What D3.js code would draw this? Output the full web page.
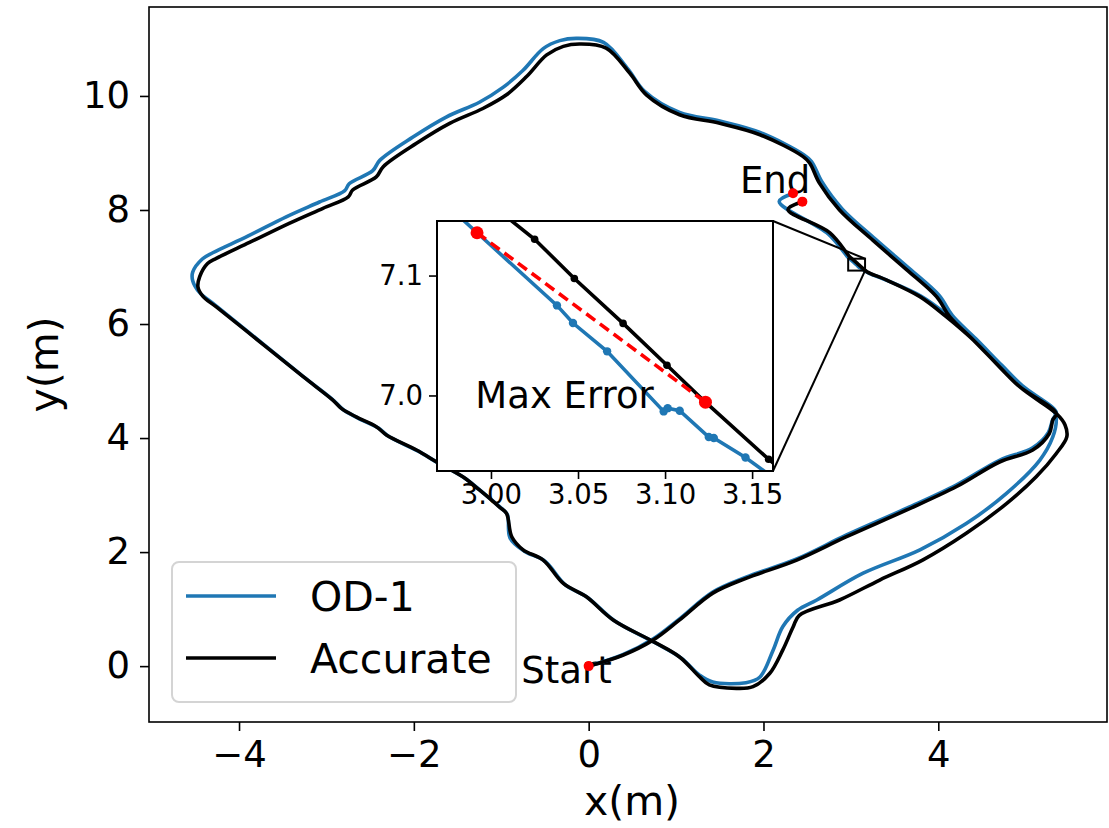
<!DOCTYPE html>
<html>
<head>
<meta charset="utf-8">
<script src="https://cdn.jsdelivr.net/npm/d3@7"></script>
<style>
body { margin: 0; background: #fff; }
svg { display: block; font-family: "DejaVu Sans", sans-serif; }
</style>
</head>
<body>
<script>
const WIDTH = 1109
const HEIGHT = 828

// ground truth trajectory
const accurateX = [0, 0.39, 0.74, 1.04, 1.42, 1.80, 2.38, 2.95, 3.64, 4.21, 4.70, 5.08, 5.27, 5.31, 5.35,
    4.93, 4.70, 4.40, 4.13, 3.98, 3.64, 3.25, 2.87, 2.64, 2.53, 2.45, 1.96, 1.50, 1.04, 0.66, 0.47, 0.20, -0.10, -0.29, -0.48,
    -0.71, -0.94, -1.21, -1.59, -1.97, -2.35, -2.43, -2.70, -2.75, -3.04, -3.42, -3.88, -4.26, -4.36, -4.45, -4.47, -4.41, -4.26,
    -3.69, -3.27, -2.93, -2.83, -2.66, -2.43, -2.31, -1.97, -1.74, -1.44, -1.25, -1.02, -0.94, -0.88, -0.75, -0.52, -0.29, -0.03, 0.28, 0.74, 1.04,
    1.27, 1.38, 1.69, 1.88, 2.07, 2.22, 2.34, 2.41,
    2.87, 3.33, 3.82, 4.32, 4.78, 5.12, 5.35, 5.47, 5.45, 5.35,
    4.93, 4.40, 4.09, 3.79, 3.41, 3.19,
    3.1595, 3.1232, 3.1011, 3.0759, 3.0479, 3.0251, 2.995,
    2.76, 2.28, 2.445]
const accurateY = [0, 0.19, 0.46, 0.81, 1.28, 1.54, 1.86, 2.27, 2.74, 3.15, 3.58, 3.79, 4.08, 4.32, 4.43,
    4.90, 5.25, 5.72, 6.13, 6.48, 6.95, 7.47, 8.00, 8.47, 8.82, 8.94, 9.32, 9.52, 9.67, 10.02, 10.40, 10.84, 10.91, 10.87, 10.72,
    10.34, 10.02, 9.78, 9.52, 9.17, 8.76, 8.58, 8.35, 8.23, 8.03, 7.77, 7.43, 7.15, 7.06, 6.83, 6.65, 6.48, 6.30,
    5.60, 5.08, 4.67, 4.52, 4.37, 4.20, 4.05, 3.79, 3.58, 3.32, 3.09, 2.79, 2.68, 2.27, 2.04, 1.86, 1.45, 1.22, 0.81, 0.43, 0.16,
    -0.19, -0.33, -0.39, -0.36, -0.13, 0.28, 0.69, 0.89,
    1.16, 1.51, 1.86, 2.33, 2.85, 3.32, 3.73, 4.02, 4.23, 4.43,
    4.90, 5.72, 6.13, 6.48, 6.77, 6.91,
    6.9468, 6.9944, 7.0252, 7.0601, 7.0975, 7.1303, 7.165,
    7.60, 8.01, 8.146]

// OD-1 estimate
const od1X = [0, 0.39, 0.74, 1.04, 1.42, 1.80, 2.38, 2.95, 3.64, 4.21, 4.70, 5.08, 5.26, 5.31, 5.35,
    4.96, 4.73, 4.43, 4.16, 4.01, 3.67, 3.28, 2.90, 2.67, 2.55, 2.46, 1.96, 1.50, 1.04, 0.64, 0.45, 0.17, -0.14, -0.33, -0.52,
    -0.75, -0.98, -1.25, -1.63, -2.01, -2.39, -2.47, -2.74, -2.79, -3.08, -3.46, -3.90, -4.30, -4.42, -4.53, -4.53, -4.45, -4.28,
    -3.67, -3.25, -2.91, -2.81, -2.64, -2.41, -2.29, -1.95, -1.72, -1.42, -1.23, -1.00, -0.93, -0.90, -0.74, -0.50, -0.27, -0.01, 0.30, 0.76, 1.06,
    1.27, 1.42, 1.80, 1.96, 2.11, 2.22, 2.39,
    2.61, 3.14, 3.79, 4.32, 4.78, 5.16, 5.31, 5.35,
    5.33, 4.96, 4.43, 4.11, 3.80, 3.42, 3.21,
    3.175, 3.1462, 3.128, 3.1251, 3.1084, 3.1015, 3.0992, 3.0667, 3.0471, 3.0379, 2.992, 2.97,
    2.74, 2.18, 2.34]
const od1Y = [0, 0.20, 0.48, 0.83, 1.30, 1.56, 1.88, 2.30, 2.77, 3.18, 3.61, 3.83, 4.10, 4.33, 4.45,
    4.92, 5.27, 5.74, 6.15, 6.50, 6.97, 7.49, 8.02, 8.49, 8.85, 8.97, 9.36, 9.56, 9.71, 10.08, 10.47, 10.94, 11.01, 10.97, 10.83,
    10.45, 10.15, 9.89, 9.63, 9.28, 8.87, 8.69, 8.46, 8.34, 8.14, 7.88, 7.54, 7.25, 7.14, 6.91, 6.76, 6.55, 6.34,
    5.58, 5.06, 4.65, 4.50, 4.35, 4.18, 4.03, 3.77, 3.56, 3.30, 3.07, 2.77, 2.66, 2.25, 2.02, 1.84, 1.43, 1.20, 0.79, 0.41, 0.14,
    -0.16, -0.28, -0.29, -0.19, 0.28, 0.69, 0.98,
    1.16, 1.63, 2.04, 2.50, 3.03, 3.61, 4.02, 4.32,
    4.45, 4.91, 5.73, 6.15, 6.49, 6.76, 6.89,
    6.918, 6.9482, 6.9645, 6.9653, 6.9873, 6.9894, 6.9867, 7.0368, 7.0604, 7.0751, 7.1357, 7.165,
    7.58, 8.15, 8.29]

const seriesNames = ["OD-1", "Accurate"]
const seriesColors = ["#1f77b4", "#000000"]

// start / end markers and the max error pair
const startX = [0]
const startY = [0]
const endX = [2.338, 2.445]
const endY = [8.293, 8.146]
const maxErrX = [2.992, 3.1232]
const maxErrY = [7.1357, 6.9944]

const xTicks = [-4, -2, 0, 2, 4]
const yTicks = [0, 2, 4, 6, 8, 10]
const insetXTicks = [3.00, 3.05, 3.10, 3.15]
const insetYTicks = [7.0, 7.1]

const MAIN = {left: 149, right: 1107, top: 7, bottom: 722}
const INSET = {left: 437, right: 773, top: 221, bottom: 471}

var x = d3.scaleLinear().domain([-5.03, 5.93]).range([MAIN.left, MAIN.right])
var y = d3.scaleLinear().domain([-0.98, 11.56]).range([MAIN.bottom, MAIN.top])
var ix = d3.scaleLinear().domain([2.969, 3.162]).range([INSET.left, INSET.right])
var iy = d3.scaleLinear().domain([6.937, 7.1455]).range([INSET.bottom, INSET.top])

var pairs = function(xs, ys){
    return xs.map(function(v, i){ return [v, ys[i]] })
}
var accurate = pairs(accurateX, accurateY)
var od1 = pairs(od1X, od1Y)

var fmtTick = function(d){ return d < 0 ? "\u2212" + Math.abs(d) : "" + d }

var createChart = function(){
    var svg = d3.select("body").append("svg")
        .attr("width", WIDTH)
        .attr("height", HEIGHT)

    var defs = svg.append("defs")
    defs.append("clipPath").attr("id", "clipMain").append("rect")
        .attr("x", MAIN.left).attr("y", MAIN.top)
        .attr("width", MAIN.right - MAIN.left).attr("height", MAIN.bottom - MAIN.top)
    defs.append("clipPath").attr("id", "clipInset").append("rect")
        .attr("x", INSET.left).attr("y", INSET.top)
        .attr("width", INSET.right - INSET.left).attr("height", INSET.bottom - INSET.top)

    createMain(svg)
    createLegend(svg)
    createInset(svg)
}

var createMain = function(svg){
    var line = d3.line()
        .curve(d3.curveCatmullRom.alpha(0.5))
        .x(function(d){ return x(d[0]) }).y(function(d){ return y(d[1]) })
    var plot = svg.append("g").attr("clip-path", "url(#clipMain)")

    plot.append("text").attr("x", x(-0.77)).attr("y", y(-0.30))
        .style("font-size", "37px").text("Start")
    plot.append("text").attr("x", x(1.73)).attr("y", y(8.29))
        .style("font-size", "37px").text("End")

    plot.append("path").datum(od1)
        .attr("d", line).attr("fill", "none")
        .attr("stroke", seriesColors[0]).attr("stroke-width", 3.6)
        .attr("stroke-linejoin", "round").attr("stroke-linecap", "round")
    plot.append("path").datum(accurate)
        .attr("d", line).attr("fill", "none")
        .attr("stroke", seriesColors[1]).attr("stroke-width", 3.6)
        .attr("stroke-linejoin", "round").attr("stroke-linecap", "round")

    plot.selectAll("circle.start").data(pairs(startX, startY)).enter().append("circle")
        .attr("cx", function(d){ return x(d[0]) }).attr("cy", function(d){ return y(d[1]) })
        .attr("r", 5).attr("fill", "red")
    plot.selectAll("circle.end").data(pairs(endX, endY)).enter().append("circle")
        .attr("cx", function(d){ return x(d[0]) }).attr("cy", function(d){ return y(d[1]) })
        .attr("r", 5).attr("fill", "red")

    // zoom box
    plot.append("rect")
        .attr("x", x(ix.domain()[0])).attr("y", y(iy.domain()[1]))
        .attr("width", x(ix.domain()[1]) - x(ix.domain()[0]))
        .attr("height", y(iy.domain()[0]) - y(iy.domain()[1]))
        .attr("fill", "none").attr("stroke", "#000").attr("stroke-width", 2)

    var xAxis = svg.append("g")
        .attr("transform", "translate(0," + MAIN.bottom + ")")
        .call(d3.axisBottom(x).tickValues(xTicks).tickFormat(fmtTick).tickSize(9).tickPadding(10))
    var yAxis = svg.append("g")
        .attr("transform", "translate(" + MAIN.left + ",0)")
        .call(d3.axisLeft(y).tickValues(yTicks).tickFormat(fmtTick).tickSize(9).tickPadding(10))
    ;[xAxis, yAxis].forEach(function(g){
        g.select(".domain").remove()
        g.selectAll("line").attr("stroke", "#000").attr("stroke-width", 1.6)
        g.selectAll("text").style("font-size", "37px").attr("fill", "#000")
            .style("font-family", "DejaVu Sans")
    })

    svg.append("rect")
        .attr("x", MAIN.left).attr("y", MAIN.top)
        .attr("width", MAIN.right - MAIN.left).attr("height", MAIN.bottom - MAIN.top)
        .attr("fill", "none").attr("stroke", "#000").attr("stroke-width", 1.6)

    svg.append("text")
        .attr("x", 632).attr("y", 815)
        .attr("text-anchor", "middle").style("font-size", "41px").text("x(m)")
    svg.append("text")
        .attr("transform", "translate(58," + (MAIN.top + MAIN.bottom) / 2 + ") rotate(-90)")
        .attr("text-anchor", "middle").style("font-size", "41px").text("y(m)")
}

var createLegend = function(svg){
    var g = svg.append("g")
    g.append("rect")
        .attr("x", 172).attr("y", 562).attr("width", 344).attr("height", 140)
        .attr("rx", 7).attr("fill", "#fff").attr("fill-opacity", 0.8)
        .attr("stroke", "#d4d4d4").attr("stroke-width", 2)
    seriesNames.forEach(function(name, i){
        var ly = 596 + i * 62
        g.append("line")
            .attr("x1", 186).attr("x2", 276).attr("y1", ly).attr("y2", ly)
            .attr("stroke", seriesColors[i]).attr("stroke-width", 3.6)
        g.append("text")
            .attr("x", 310).attr("y", ly + 15)
            .style("font-size", "41px").text(name)
    })
}

var createInset = function(svg){
    var line = d3.line().x(function(d){ return ix(d[0]) }).y(function(d){ return iy(d[1]) })

    svg.append("rect")
        .attr("x", INSET.left).attr("y", INSET.top)
        .attr("width", INSET.right - INSET.left).attr("height", INSET.bottom - INSET.top)
        .attr("fill", "#fff")

    var plot = svg.append("g").attr("clip-path", "url(#clipInset)")
    ;[od1, accurate].forEach(function(series, i){
        plot.append("path").datum(series)
            .attr("d", line).attr("fill", "none")
            .attr("stroke", seriesColors[i]).attr("stroke-width", 3.6)
        plot.selectAll("circle.s" + i).data(series).enter().append("circle")
            .attr("class", "s" + i)
            .attr("cx", function(d){ return ix(d[0]) }).attr("cy", function(d){ return iy(d[1]) })
            .attr("r", i == 0 ? 4.2 : 3.8).attr("fill", seriesColors[i])
    })
    var errPts = pairs(maxErrX, maxErrY)
    plot.append("path").datum(errPts)
        .attr("d", line).attr("fill", "none")
        .attr("stroke", "red").attr("stroke-width", 3.6).attr("stroke-dasharray", "11,6")
    plot.selectAll("circle.err").data(errPts).enter().append("circle")
        .attr("cx", function(d){ return ix(d[0]) }).attr("cy", function(d){ return iy(d[1]) })
        .attr("r", 6.5).attr("fill", "red")

    plot.append("text").attr("x", ix(2.991)).attr("y", iy(6.9898))
        .style("font-size", "37px").text("Max Error")

    var xAxis = svg.append("g")
        .attr("transform", "translate(0," + INSET.bottom + ")")
        .call(d3.axisBottom(ix).tickValues(insetXTicks).tickFormat(d3.format(".2f")).tickSize(8).tickPadding(5))
    var yAxis = svg.append("g")
        .attr("transform", "translate(" + INSET.left + ",0)")
        .call(d3.axisLeft(iy).tickValues(insetYTicks).tickFormat(d3.format(".1f")).tickSize(8).tickPadding(6))
    ;[xAxis, yAxis].forEach(function(g){
        g.select(".domain").remove()
        g.selectAll("line").attr("stroke", "#000").attr("stroke-width", 1.6)
        g.selectAll("text").style("font-size", "27.5px").attr("fill", "#000")
            .style("font-family", "DejaVu Sans")
    })

    svg.append("rect")
        .attr("x", INSET.left).attr("y", INSET.top)
        .attr("width", INSET.right - INSET.left).attr("height", INSET.bottom - INSET.top)
        .attr("fill", "none").attr("stroke", "#000").attr("stroke-width", 2)

    // connectors from inset corners to the zoom box corners
    var bx = x(ix.domain()[1])
    svg.append("line")
        .attr("x1", INSET.right).attr("y1", INSET.top)
        .attr("x2", bx).attr("y2", y(iy.domain()[1]))
        .attr("stroke", "#000").attr("stroke-width", 2)
    svg.append("line")
        .attr("x1", INSET.right).attr("y1", INSET.bottom)
        .attr("x2", bx).attr("y2", y(iy.domain()[0]))
        .attr("stroke", "#000").attr("stroke-width", 2)
}

createChart();
</script>
</body>
</html>
